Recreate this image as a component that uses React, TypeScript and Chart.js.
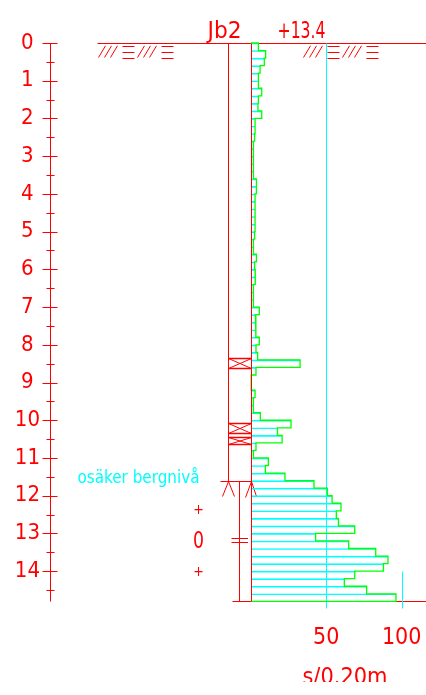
import React, { useEffect, useRef } from 'react';
import { Chart, registerables } from 'chart.js';

Chart.register(...registerables);

// ---------- data ----------
const DEPTH_STEP = 0.2; // one bar per 0.20 m
// sounding resistance, s/0.20m, from 0.0 m downwards
const soundingValues = [
  5.1, 9.9, 9.0, 6.2, 5.1, 5.1, 7.3, 5.1, 4.8, 7.3,
  2.9, 2.9, 2.6, 1.8, 1.8, 1.8, 1.8, 1.8, 3.8, 3.8,
  2.9, 2.9, 2.9, 2.9, 2.9, 2.6, 1.8, 1.8, 3.8, 2.6,
  2.9, 3.1, 1.8, 1.8, 1.8, 5.7, 3.1, 3.5, 3.5, 5.7,
  3.5, 4.6, 32.7, 3.5, 0.3, 0.3, 2.9, 1.8, 1.8, 6.4,
  26.7, 17.7, 20.8, 3.5, 1.8, 11.7, 9.7, 22.7, 41.9, 50.8,
  53.9, 59.8, 56.7, 58.1, 68.9, 43, 64.9, 82.8, 90.9, 87.9,
  68.9, 62, 76.8, 96.2,
];
const depthTicks = [0, 1, 2, 3, 4, 5, 6, 7, 8, 9, 10, 11, 12, 13, 14];
const xTickValues = [50, 100];
const crossMarkers = [
  [8.36, 8.62],
  [10.06, 10.33],
  [10.45, 10.63],
];
const ROCK_DEPTH = 11.62;
const END_DEPTH = 14.8;
const pointMarks = [
  { depth: 12.38, label: '+' },
  { depth: 13.17, label: '0' },
  { depth: 14.02, label: '+' },
];
const JOINT_DEPTH = 13.17;
const holeName = 'Jb2';
const groundLevel = '+13.4';
const rockLabel = 'osäker bergnivå';
const unitLabel = 's/0.20m';

// axis ranges
const X_MIN = -132.25;
const X_MAX = 116.09;
const DEPTH_MAX = 15.03;

const FONT = "'DejaVu Sans Condensed', 'Liberation Sans Narrow', 'DejaVu Sans', sans-serif";
const RED = '#ff0000';
const CYAN = '#00ffff';
const GREEN = '#00ff00';

function seg(ctx: CanvasRenderingContext2D, x1: number, y1: number, x2: number, y2: number, color: string, w = 1) {
  ctx.save();
  ctx.strokeStyle = color;
  ctx.lineWidth = w;
  ctx.beginPath();
  ctx.moveTo(x1, y1);
  ctx.lineTo(x2, y2);
  ctx.stroke();
  ctx.restore();
}

function txt(
  ctx: CanvasRenderingContext2D,
  s: string,
  x: number,
  y: number,
  size: number,
  color: string,
  align: 'left' | 'right' | 'center',
  targetW?: number,
  baseline: CanvasTextBaseline = 'alphabetic'
) {
  ctx.save();
  ctx.font = `${size}px ${FONT}`;
  ctx.fillStyle = color;
  ctx.textBaseline = baseline;
  ctx.textAlign = 'left';
  const w = ctx.measureText(s).width;
  const sx = targetW ? targetW / w : 1;
  const left = align === 'left' ? x : align === 'right' ? x - w * sx : x - (w * sx) / 2;
  ctx.translate(left, y);
  ctx.scale(sx, 1);
  ctx.fillText(s, 0, 0);
  ctx.restore();
}

function hatch(ctx: CanvasRenderingContext2D, hx: number, y: number) {
  for (let g = 0; g < 2; g++) {
    const gx = hx + g * 39;
    for (let i = 0; i < 3; i++) seg(ctx, gx + 6 * i, y + 14, gx + 6 * i + 7, y + 2.3, RED);
    for (let j = 0; j < 3; j++) {
      const yy = Math.round(y + 2.5 + 5.75 * j) + 0.5;
      seg(ctx, gx + 24, yy, gx + 36, yy, RED);
    }
  }
}

export default function App() {
  const ref = useRef<HTMLCanvasElement>(null);

  useEffect(() => {
    const canvas = ref.current;
    if (!canvas) return;

    const bars = soundingValues.map((v, i) => ({ x: v, y: (i + 0.5) * DEPTH_STEP }));
    const profile: { x: number; y: number }[] = [{ x: 0, y: 0 }];
    soundingValues.forEach((v, i) => {
      profile.push({ x: v, y: i * DEPTH_STEP });
      profile.push({ x: v, y: (i + 1) * DEPTH_STEP });
    });
    profile.push({ x: 0, y: soundingValues.length * DEPTH_STEP });

    const decor = {
      id: 'decor',
      beforeDatasetsDraw(chart: any) {
        const ctx: CanvasRenderingContext2D = chart.ctx;
        const xs = chart.scales.x;
        const ys = chart.scales.y;
        const X = (v: number) => xs.getPixelForValue(v);
        const Y = (d: number) => ys.getPixelForValue(d);
        const x0 = Math.round(X(0)) + 0.5;
        const yTop = Math.round(Y(0)) + 0.5;
        const yEnd = Math.round(Y(END_DEPTH)) + 0.5;
        const yRock = Math.round(Y(ROCK_DEPTH)) + 0.5;
        const W = chart.width;

        // depth axis
        const ax = Math.round(chart.chartArea.left) - 0.5;
        seg(ctx, ax, yTop, ax, yEnd, RED);
        for (let d = 0; d <= 14.5 + 1e-6; d += 0.5) {
          const yy = Math.round(Y(d)) + 0.5;
          const major = Math.abs(d - Math.round(d)) < 1e-6;
          if (major) seg(ctx, ax - 8, yy, ax + 7, yy, RED);
          else seg(ctx, ax - 4, yy, ax + 4, yy, RED);
        }

        // ground line and hatching
        seg(ctx, x0 - 154, yTop, W, yTop, RED);
        hatch(ctx, x0 - 153, yTop);
        hatch(ctx, x0 + 52, yTop);

        // title texts
        txt(ctx, holeName, x0 - 10, yTop - 6, 23, RED, 'right', 34);
        txt(ctx, groundLevel, x0 + 26, yTop - 6, 23, RED, 'left', 48);

        // borehole column
        const cl = x0 - 23;
        seg(ctx, cl, yTop, cl, yRock, RED);
        seg(ctx, x0 - 31, yRock, x0 + 7, yRock, RED);
        seg(ctx, cl, yRock, cl - 6, yRock + 15, RED);
        seg(ctx, cl, yRock, cl + 6, yRock + 15, RED);
        seg(ctx, x0, yRock, x0 - 6, yRock + 16, RED);
        seg(ctx, x0, yRock, x0 + 5, yRock + 15, RED);
        crossMarkers.forEach(([d1, d2]) => {
          const ya = Math.round(Y(d1)) + 0.5;
          const yb = Math.round(Y(d2)) + 0.5;
          seg(ctx, cl, ya, x0, ya, RED, 1.5);
          seg(ctx, cl, yb, x0, yb, RED, 1.5);
          seg(ctx, cl, ya, x0, yb, RED);
          seg(ctx, cl, yb, x0, ya, RED);
        });

        // rod below rock level
        const rx = x0 - 12;
        seg(ctx, rx, yRock, rx, yEnd, RED);
        const yj = Math.round(Y(JOINT_DEPTH));
        seg(ctx, x0 - 20, yj - 1.5, x0 - 3.5, yj - 1.5, RED);
        seg(ctx, x0 - 20, yj + 2.5, x0 - 3.5, yj + 2.5, RED);
        seg(ctx, x0 - 19, yEnd, W, yEnd, RED);

        // markers left of the rod
        pointMarks.forEach((m) => {
          if (m.label === '+') txt(ctx, m.label, x0 - 53, Y(m.depth), 14, RED, 'center', undefined, 'middle');
          else txt(ctx, m.label, x0 - 53, Y(m.depth) + 8.5, 23, RED, 'center', 11);
        });

        txt(ctx, rockLabel, x0 - 52, yRock + 1.5, 17, CYAN, 'right', 122);

        // reference lines at 50 and 100
        const x50 = Math.round(X(50)) + 0.5;
        const x100 = Math.round(X(100)) + 0.5;
        seg(ctx, x50, yTop, x50, yEnd + 7, CYAN);
        seg(ctx, x100, Math.round(Y(14)) + 0.5, x100, yEnd + 7, CYAN);

        // unit label (clipped at bottom like the drawing)
        ctx.save();
        ctx.beginPath();
        ctx.rect(0, 0, W, 682);
        ctx.clip();
        txt(ctx, unitLabel, (X(50) + X(100)) / 2 - 19, 684, 23, RED, 'center', 85);
        ctx.restore();
      },
      afterDatasetsDraw(chart: any) {
        const ctx: CanvasRenderingContext2D = chart.ctx;
        const xs = chart.scales.x;
        const ys = chart.scales.y;
        const x0 = Math.round(xs.getPixelForValue(0)) + 0.5;
        const yTop = Math.round(ys.getPixelForValue(0)) + 0.5;
        const yEnd = Math.round(ys.getPixelForValue(END_DEPTH)) + 0.5;
        seg(ctx, x0, yTop, x0, yEnd, RED);
      },
    };

    const chart = new Chart(canvas, {
      type: 'bar',
      data: {
        datasets: [
          {
            type: 'bar',
            data: bars as any,
            backgroundColor: 'rgba(0,0,0,0)',
            borderColor: CYAN,
            borderWidth: { top: 1, right: 0, bottom: 0, left: 0 } as any,
            borderSkipped: false,
            barPercentage: 1,
            categoryPercentage: 1,
            order: 2,
          },
          {
            type: 'line',
            data: profile as any,
            borderColor: GREEN,
            borderWidth: 1.3,
            pointRadius: 0,
            fill: false,
            tension: 0,
            clip: false as any,
            order: 1,
          } as any,
        ],
      },
      options: {
        responsive: false,
        animation: false,
        indexAxis: 'y',
        layout: { padding: { top: 43, left: 0, right: 0, bottom: 0 } },
        plugins: {
          legend: { display: false },
          tooltip: { enabled: false },
          title: { display: false },
        },
        scales: {
          x: {
            type: 'linear',
            min: X_MIN,
            max: X_MAX,
            offset: false,
            position: 'bottom',
            grid: { display: false, drawTicks: true, tickLength: 14 },
            border: { display: false },
            afterBuildTicks: (s: any) => {
              s.ticks = xTickValues.map((v) => ({ value: v }));
            },
            afterFit: (s: any) => {
              s.height = 85;
            },
            ticks: {
              color: RED,
              font: { size: 23, family: FONT },
              padding: 0,
              autoSkip: false,
              maxRotation: 0,
            },
          },
          y: {
            type: 'linear',
            reverse: true,
            offset: false,
            min: 0,
            max: DEPTH_MAX,
            position: 'left',
            grid: { display: false, drawTicks: false, offset: false },
            border: { display: false },
            afterBuildTicks: (s: any) => {
              s.ticks = depthTicks.map((v) => ({ value: v }));
            },
            afterFit: (s: any) => {
              s.width = 51;
            },
            ticks: {
              color: RED,
              font: { size: 22, family: FONT },
              padding: 11,
              crossAlign: 'center',
              autoSkip: false,
            },
          },
        },
      } as any,
      plugins: [decor],
    });

    return () => chart.destroy();
  }, []);

  return (
    <div style={{ position: 'absolute', left: 0, top: 0, width: 426, height: 695, background: '#fff' }}>
      <canvas ref={ref} width={426} height={695} style={{ display: 'block' }} />
    </div>
  );
}
